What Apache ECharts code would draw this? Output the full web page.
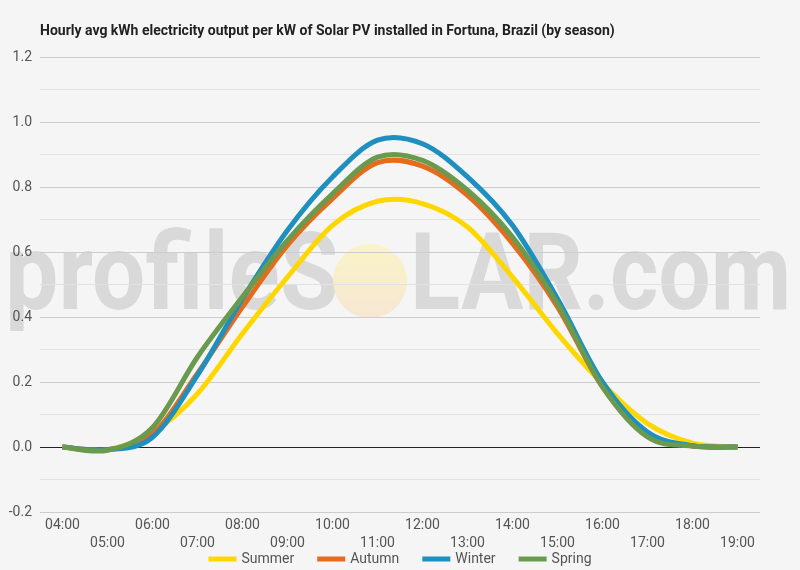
<!DOCTYPE html>
<html>
<head>
<meta charset="utf-8">
<script src="https://cdn.jsdelivr.net/npm/echarts@6/dist/echarts.min.js"></script>
<style>
html,body{margin:0;padding:0;background:#f5f5f5;}
#c{width:800px;height:570px;}
</style>
</head>
<body>
<div id="c"></div>
<script>
const hours = ['04:00','05:00','06:00','07:00','08:00','09:00','10:00','11:00','12:00','13:00','14:00','15:00','16:00','17:00','18:00','19:00'];
const summer = [0, -0.008, 0.045, 0.164, 0.349, 0.523, 0.682, 0.756, 0.749, 0.677, 0.523, 0.349, 0.195, 0.072, 0.012, 0];
const autumn = [0, -0.008, 0.04, 0.226, 0.431, 0.621, 0.764, 0.875, 0.864, 0.774, 0.626, 0.431, 0.185, 0.035, 0.003, 0];
const winter = [0, -0.008, 0.03, 0.221, 0.456, 0.667, 0.831, 0.944, 0.933, 0.831, 0.682, 0.456, 0.2, 0.046, 0.004, 0];
const spring = [0, -0.01, 0.06, 0.277, 0.462, 0.636, 0.779, 0.892, 0.882, 0.79, 0.646, 0.441, 0.185, 0.031, 0.003, 0];
const seriesNames = ['Summer','Autumn','Winter','Spring'];
const colors = ['#FFD700','#E36C1E','#1F8FBF','#6A9A4E'];
const yTicks = [-0.2, 0, 0.2, 0.4, 0.6, 0.8, 1.0, 1.2];

const chart = echarts.init(document.getElementById('c'));

// smooth curve (Catmull-Rom style) through the data points, positioned with the chart's own scales
function curveSeries(name, values, i) {
  return {
    name, type: 'custom', z: 3 + i,
    itemStyle: {color: colors[i]},
    data: values.map((v, k) => [k, v]),
    encode: {x: 0, y: 1},
    renderItem: function (params, api) {
      if (params.dataIndex !== 0) return null;
      const p = values.map((v, k) => api.coord([k, v]));
      const n = p.length;
      let d = 'M' + p[0][0] + ' ' + p[0][1];
      for (let k = 0; k < n - 1; k++) {
        const p0 = p[Math.max(k - 1, 0)], p1 = p[k], p2 = p[k + 1], p3 = p[Math.min(k + 2, n - 1)];
        const c1x = p1[0] + (p2[0] - p0[0]) / 6, c1y = p1[1] + (p2[1] - p0[1]) / 6;
        const c2x = p2[0] - (p3[0] - p1[0]) / 6, c2y = p2[1] - (p3[1] - p1[1]) / 6;
        d += ' C' + c1x + ' ' + c1y + ' ' + c2x + ' ' + c2y + ' ' + p2[0] + ' ' + p2[1];
      }
      return {
        type: 'path', shape: {pathData: d},
        style: {fill: 'none', stroke: colors[i], lineWidth: 5, lineJoin: 'round', lineCap: 'butt'}
      };
    }
  };
}

chart.setOption({
  backgroundColor: '#f5f5f5',
  animation: false,
  color: colors,
  title: {
    text: 'Hourly avg kWh electricity output per kW of Solar PV installed in Fortuna, Brazil (by season)',
    left: 35, top: 19,
    textStyle: {fontFamily: 'Roboto', fontWeight: 'bold', fontSize: 14, color: '#222'}
  },
  graphic: [
    {type: 'text', x: 5, y: 282, scaleX: 0.88, z: 0, silent: true,
     style: {text: 'profileS', x: 0, y: 0, font: 'bold 108px Roboto', fill: 'rgba(0,0,0,0.115)', verticalAlign: 'middle', align: 'left'}},
    {type: 'circle', shape: {cx: 370, cy: 281, r: 37}, z: 0, silent: true,
     style: {fill: {type: 'linear', x: 0, y: 0, x2: 0, y2: 1, colorStops: [{offset: 0, color: 'rgba(250,244,190,0.85)'}, {offset: 1, color: 'rgba(247,228,205,0.85)'}]}}},
    {type: 'text', x: 410, y: 282, scaleX: 0.86, z: 0, silent: true,
     style: {text: 'LAR.com', x: 0, y: 0, font: 'bold 108px Roboto', fill: 'rgba(0,0,0,0.115)', verticalAlign: 'middle', align: 'left'}}
  ],
  legend: {
    data: seriesNames, bottom: -1, left: 'center', itemWidth: 28, itemHeight: 5, itemGap: 23,
    icon: 'rect',
    textStyle: {fontFamily: 'Roboto', fontSize: 14, color: '#555'}
  },
  grid: {left: 40, right: 40, top: 57, bottom: 58},
  xAxis: {
    type: 'category', data: hours, boundaryGap: true,
    axisLine: {show: false}, axisTick: {show: false},
    axisLabel: {
      interval: 0, margin: 4, fontFamily: 'Roboto', fontSize: 14, color: '#555', lineHeight: 18,
      formatter: (v, i) => (i % 2 === 1 ? '\n' + v : v)
    }
  },
  yAxis: {
    type: 'value', min: yTicks[0], max: yTicks[yTicks.length - 1], interval: 0.2,
    axisLine: {show: false}, axisTick: {show: false},
    axisLabel: {margin: 8, fontFamily: 'Roboto', fontSize: 14, color: '#555', formatter: v => v.toFixed(1)},
    splitLine: {lineStyle: {color: ['#cccccc', '#222222', '#cccccc', '#cccccc', '#cccccc', '#cccccc', '#cccccc', '#cccccc'], width: 1}},
    minorTick: {show: false, splitNumber: 2},
    minorSplitLine: {show: true, lineStyle: {color: '#e2e2e2', width: 1}}
  },
  series: [curveSeries('Summer', summer, 0), curveSeries('Autumn', autumn, 1), curveSeries('Winter', winter, 2), curveSeries('Spring', spring, 3)]
});
</script>
</body>
</html>
